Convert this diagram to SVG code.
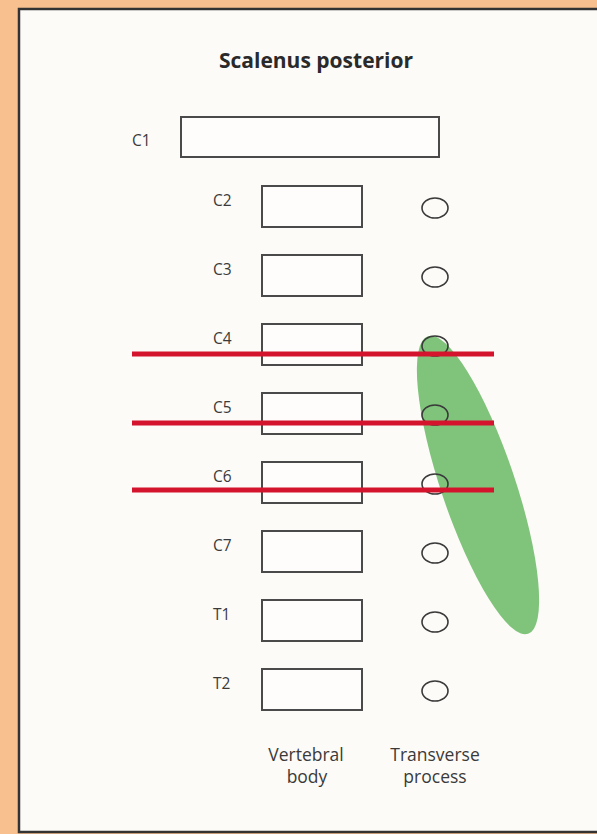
<svg xmlns="http://www.w3.org/2000/svg" width="597" height="834" viewBox="0 0 597 834">
<style>
.lbl{font-family:"Open Sans","Liberation Sans",sans-serif;font-size:15.5px;fill:#3a3a3a}
.cap{font-family:"Open Sans","Liberation Sans",sans-serif;font-size:17.5px;fill:#3a3a3a;text-anchor:middle}
.vb{fill:#fefdfb;stroke:#4a4a4a;stroke-width:2}
.tp{fill:none;stroke:#3a3a3a;stroke-width:1.6}
.red{stroke:#d4142c;stroke-width:5;fill:none}
</style>
<rect x="0" y="0" width="597" height="834" fill="#f9c08f"/>
<rect x="19" y="9" width="600" height="823" fill="#fdfbf8" stroke="#333" stroke-width="2.5"/>
<text x="316" y="68" font-family="Open Sans,Liberation Sans,sans-serif" font-size="21" font-weight="bold" fill="#2a2a2a" text-anchor="middle">Scalenus posterior</text>
<ellipse id="muscle" cx="478" cy="485" rx="37" ry="157" transform="rotate(-18.6 478 485)" fill="#80c47c"/>
<g id="C1"><text class="lbl" x="132" y="146">C1</text><rect class="vb" x="181" y="117" width="258" height="40"/></g>
<g id="C2"><text class="lbl" x="213" y="206">C2</text><rect class="vb" x="262" y="186" width="100" height="41"/><ellipse class="tp" cx="435" cy="208" rx="13" ry="10"/></g>
<g id="C3"><text class="lbl" x="213" y="275">C3</text><rect class="vb" x="262" y="255" width="100" height="41"/><ellipse class="tp" cx="435" cy="277" rx="13" ry="10"/></g>
<g id="C4"><text class="lbl" x="213" y="344">C4</text><rect class="vb" x="262" y="324" width="100" height="41"/><ellipse class="tp" cx="435" cy="346" rx="13" ry="10"/></g>
<g id="C5"><text class="lbl" x="213" y="413">C5</text><rect class="vb" x="262" y="393" width="100" height="41"/><ellipse class="tp" cx="435" cy="415" rx="13" ry="10"/></g>
<g id="C6"><text class="lbl" x="213" y="482">C6</text><rect class="vb" x="262" y="462" width="100" height="41"/><ellipse class="tp" cx="435" cy="484" rx="13" ry="10"/></g>
<g id="C7"><text class="lbl" x="213" y="551">C7</text><rect class="vb" x="262" y="531" width="100" height="41"/><ellipse class="tp" cx="435" cy="553" rx="13" ry="10"/></g>
<g id="T1"><text class="lbl" x="213" y="620">T1</text><rect class="vb" x="262" y="600" width="100" height="41"/><ellipse class="tp" cx="435" cy="622" rx="13" ry="10"/></g>
<g id="T2"><text class="lbl" x="213" y="689">T2</text><rect class="vb" x="262" y="669" width="100" height="41"/><ellipse class="tp" cx="435" cy="691" rx="13" ry="10"/></g>
<g id="lines">
<line class="red" x1="132" y1="354" x2="494" y2="354"/>
<line class="red" x1="132" y1="423" x2="494" y2="423"/>
<line class="red" x1="132" y1="490" x2="494" y2="490"/>
</g>
<g id="labels">
<text class="cap" x="306" y="761">Vertebral</text>
<text class="cap" x="307" y="783">body</text>
<text class="cap" x="435" y="761">Transverse</text>
<text class="cap" x="435" y="783">process</text>
</g>
</svg>
